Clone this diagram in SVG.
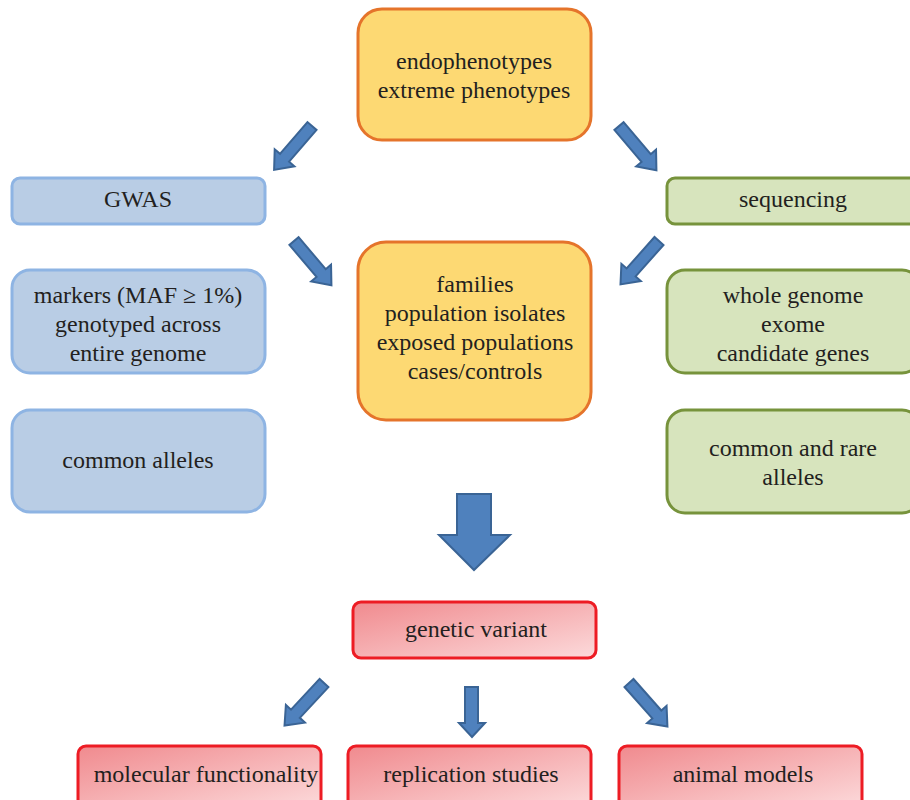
<svg xmlns="http://www.w3.org/2000/svg" width="910" height="800" viewBox="0 0 910 800">
<style>
.t{font-family:'Liberation Serif','Times New Roman',serif;font-size:24px;fill:#231F20;text-anchor:middle}
.y{fill:#FDD973;stroke:#E5742B;stroke-width:3}
.b{fill:#B9CDE5;stroke:#8EB4E3;stroke-width:3}
.g{fill:#D7E4BD;stroke:#77933C;stroke-width:3}
.r{fill:url(#rg);stroke:#ED1C24;stroke-width:3}
.a{fill:#4F81BD;stroke:#3A6495;stroke-width:2;stroke-linejoin:miter}
</style>
<defs>
<linearGradient id="rg" x1="0" y1="0" x2="1" y2="1">
<stop offset="0" stop-color="#F08A8E"/>
<stop offset="1" stop-color="#FCDADB"/>
</linearGradient>
<path id="arr" d="M0,-6 L42,-6 L42,-13 L58,0 L42,13 L42,6 L0,6 Z"/>
</defs>
<g id="connectors">
<use href="#arr" class="a" transform="translate(312,126) rotate(130.8)"/>
<use href="#arr" class="a" transform="translate(294,241) rotate(49.8)"/>
<use href="#arr" class="a" transform="translate(619,126) rotate(49.8)"/>
<use href="#arr" class="a" transform="translate(659,241) rotate(131.6)"/>
<use href="#arr" class="a" transform="translate(324,683) rotate(132.9)"/>
<use href="#arr" class="a" transform="translate(629,683) rotate(48.5)"/>
<path class="a" d="M465,687 H478 V723 H485 L472,737 L459,723 H465 Z"/>
<path class="a" d="M457,494 H491 V535 H510 L474,570 L439,535 H457 Z"/>
</g>
<g id="top">
<rect class="y" x="358" y="9" width="233" height="131" rx="24"/>
<text class="t" x="474" y="69">endophenotypes</text>
<text class="t" x="474" y="98">extreme phenotypes</text>
</g>
<g id="gwas">
<rect class="b" x="12" y="178" width="253" height="46" rx="8"/>
<text class="t" x="138" y="207">GWAS</text>
</g>
<g id="markers">
<rect class="b" x="12" y="270" width="253" height="103" rx="18"/>
<text class="t" x="138" y="303">markers (MAF ≥ 1%)</text>
<text class="t" x="138" y="332">genotyped across</text>
<text class="t" x="138" y="361">entire genome</text>
</g>
<g id="common">
<rect class="b" x="12" y="410" width="253" height="102" rx="18"/>
<text class="t" x="138" y="468">common alleles</text>
</g>
<g id="center">
<rect class="y" x="358" y="242" width="233" height="178" rx="28"/>
<text class="t" x="475" y="292">families</text>
<text class="t" x="475" y="321">population isolates</text>
<text class="t" x="475" y="350">exposed populations</text>
<text class="t" x="475" y="379">cases/controls</text>
</g>
<g id="sequencing">
<rect class="g" x="667" y="178" width="253" height="46" rx="8"/>
<text class="t" x="793" y="207">sequencing</text>
</g>
<g id="whole">
<rect class="g" x="667" y="270" width="253" height="103" rx="18"/>
<text class="t" x="793" y="303">whole genome</text>
<text class="t" x="793" y="332">exome</text>
<text class="t" x="793" y="361">candidate genes</text>
</g>
<g id="rare">
<rect class="g" x="667" y="410" width="253" height="103" rx="18"/>
<text class="t" x="793" y="456">common and rare</text>
<text class="t" x="793" y="485">alleles</text>
</g>
<g id="variant">
<rect class="r" x="353" y="602" width="243" height="56" rx="8"/>
<text class="t" x="476" y="637">genetic variant</text>
</g>
<g id="molecular">
<rect class="r" x="78" y="746" width="243" height="62" rx="8"/>
<text class="t" x="206" y="782">molecular functionality</text>
</g>
<g id="replication">
<rect class="r" x="348" y="746" width="243" height="62" rx="8"/>
<text class="t" x="471" y="782">replication studies</text>
</g>
<g id="animal">
<rect class="r" x="619" y="746" width="243" height="62" rx="8"/>
<text class="t" x="743" y="782">animal models</text>
</g>
</svg>
